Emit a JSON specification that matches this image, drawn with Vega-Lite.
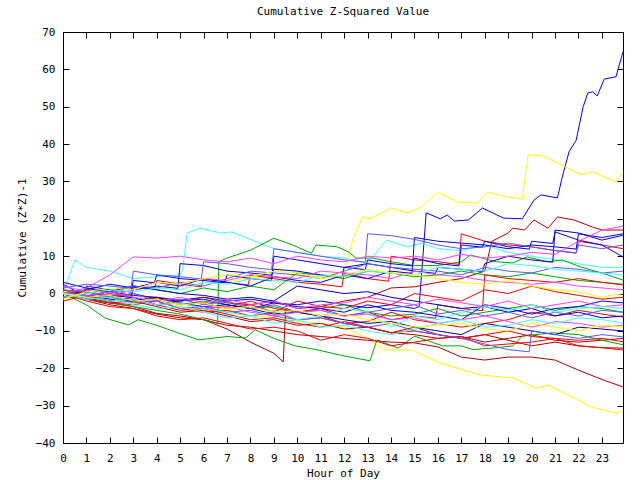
{
 "$schema": "https://vega.github.io/schema/vega-lite/v6.json",
 "width": 560, "height": 411,
 "autosize": {"type": "none"},
 "padding": {"left": 63, "top": 32, "right": 17, "bottom": 37},
 "background": "white",
 "title": {"text": "Cumulative Z-Squared Value", "font": "DejaVu Sans Mono", "fontSize": 11, "fontWeight": "normal", "color": "black", "anchor": "middle", "frame": "group", "offset": 9},
 "config": {
  "view": {"stroke": null},
  "axis": {"domainColor": "black", "tickColor": "black", "labelColor": "black", "titleColor": "black", "labelFont": "DejaVu Sans Mono", "titleFont": "DejaVu Sans Mono", "labelFontSize": 11, "titleFontSize": 11, "titleFontWeight": "normal", "grid": false, "tickSize": -6, "domainWidth": 1, "tickWidth": 1, "labelFlush": false, "labelOverlap": false}
 },
 "data": {"values": [
  {"s": "b1", "g": "blue", "h": [0,1,2,3,4,5,6,7,8,9,10,11,12,13,14,15,15.2,15.5,16.1,16.4,16.7,17.3,17.9,18.8,19.6,20.1,20.4,21.1,21.3,21.6,21.9,22.2,22.4,22.6,22.8,23.1,23.6,23.9], "v": [0,-0.8,0.5,-0.5,-1,-1.8,-1,-2,-1.5,-2.5,-3,-2,-3,-3.8,-3,-4,-3.5,21.6,20,21,19.4,19.7,22.9,20.2,20,25,26.4,25.6,31,38,41,50,53.7,54,52.9,57.4,58,64.7]},
  {"s": "y1", "g": "yellow", "h": [0,1,2,3,4,5,6,7,8,9,10,11,12,12.4,12.8,13.1,14,14.7,15.3,16,16.8,17.7,18.1,18.9,19.6,19.85,20.4,21.1,22.1,22.6,23.6,23.9], "v": [0,1,0.5,2,1.5,2.5,4,3,4.5,4,5,4.5,6,15,20.7,19.9,22.9,21.6,23.2,27.2,24.5,24.2,27.2,25.9,25.3,37.1,37,35,31.8,32.6,29.9,32.5]},
  {"s": "y2", "g": "yellow", "h": [0,1,2,3,4,5,6,7,8,9,10,11,12,13,13.7,14.9,16.1,17.8,19.2,20.2,20.7,21.8,22.5,23.6,23.9], "v": [0,-1,-1.5,-2.5,-2,-3.5,-4.5,-4,-6,-6.5,-7.5,-8,-9,-12,-15.1,-15.1,-18.6,-21.8,-22.6,-25.3,-24.5,-27.9,-30.3,-32,-31.2]},
  {"s": "dr1", "g": "darkred", "h": [0,1,2,3,4,5,6,7,8,9,10,11,12,13,14,15,16,17,18,19,20,21,22,23,23.9], "v": [0,-1.5,-3,-4,-5.5,-6.5,-7,-8.5,-9,-10,-11,-11.5,-12,-12.5,-13,-13.2,-14.3,-17,-17.8,-17,-17,-17.8,-20.5,-23,-25]},
  {"s": "dr2", "g": "darkred", "h": [0,1,2,3,4,5,6,7,8,9,9.4,9.5,10,11,12,13,14,15,16,17,18,19,20,21,22,23,23.9], "v": [0,-1,-2.5,-3.5,-5.3,-6,-7,-9.5,-13,-16,-18.3,-4,-5,-6,-8,-9,-10.5,-9,-11,-12,-11,-12.5,-14,-13,-14,-14.5,-14.6]},
  {"s": "dr3", "g": "darkred", "h": [0,1,2,3,4,5,6,7,8,9,10,11,12,13,14,15,16,17,18,18.3,19,19.2,19.7,20.1,20.7,21.1,21.8,22.6,23,23.9], "v": [0,0.5,-1,0,-1.5,-2,-1,-2.5,-3,-2,-4,-3.5,-2,-1,1.5,1.8,3,4,6,14,16.2,17.5,17,19.7,17.5,20.5,19.7,17.8,17,17]},
  {"s": "dr4", "g": "darkred", "h": [0,1,2,3,4,5,6,7,8,9,10,11,12,13,14,15,16,17,18,19,20,21,22,23,23.9], "v": [-1,-1,-2.5,-2,-3.5,-5,-4.5,-6,-7.5,-7,-8.5,-8,-9.5,-9,-10.5,-11,-12,-11.5,-13,-12,-11,-12.5,-13,-12.5,-12]},
  {"s": "c1", "g": "cyan", "h": [0,0.5,1,2,3,4,5,5.1,5.3,5.85,6.7,7.2,8.4,9,10,11,12,13,13.8,14.7,15.3,16,17,18,19,20,21,22,23,23.9], "v": [0,9,7,6,4,4.5,5,6.3,16.2,17.5,16.2,16.5,13.5,12,11,10,9.5,8,14.3,12.5,13.5,12,11.5,13,11,10,9,8,7,7]},
  {"s": "g1", "g": "green", "h": [0,1,2,3,4,5,6,6.6,6.65,7,8,9,9.8,10.6,10.8,11.7,12.2,12.5,13.2,14,15,16,17,17.4,18.5,19.2,19.8,20.7,21.3,22.1,23,23.9], "v": [0,-1.5,-2.5,-3.5,-4.5,-5.5,-7,-8,8.5,9.5,11.6,14.8,13,10.8,13,12.5,11.1,9.5,9.5,8.5,7.5,7.5,8.5,10.3,8.5,8.2,9.8,8.5,9,7.1,5.5,3.6]},
  {"s": "g2", "g": "green", "h": [0,1,1.8,2.8,3.2,4,4.9,5.8,7,7.8,8.2,9,9.9,10.8,12,13.1,13.4,14.3,15,16.2,17,17.5,18.5,19.2,19.6,20.9,22,23,23.9], "v": [0,-3,-6.6,-8.4,-7,-8.5,-10.5,-12.4,-11.5,-11.9,-9.7,-12,-14,-15,-16.7,-18,-12.4,-14.6,-11.4,-14,-14,-15,-14.5,-14,-11.4,-10.5,-11,-12.5,-13.7]},
  {"s": "g3", "g": "green", "h": [0,1,2,3,4,5,6,7,8,9,10,11,12,13,14,15,16,17,18,19,20,21,22,23,23.9], "v": [1,0.5,-1,-2,-1.5,-3,-2,-3,-4,-3.5,-5,-4,-3,-5,-6,-5.5,-4,-6,-5,-4,-3,-4.5,-3.5,-4,-5]},
  {"s": "g4", "g": "green", "h": [0,1,2,3,4,5,6,7,8,9,10,11,12,13,14,15,16,17,18,19,20,21,22,23,23.9], "v": [0,1,0.5,2,1,0,1.5,0.5,2,1,5.5,5,4,6,5.5,4.5,5,6,5,4.5,5.5,4.5,3.5,3,2.5]},
  {"s": "r1", "g": "red", "h": [0,0.9,1,2,2.9,3,3.9,4,5,5.9,6,7,7.9,8,9,10,11,11.9,12,13,13.9,14,15,16,16.9,17,18,19,20,21,21.9,22,23,23.9], "v": [1,-0.7,1.5,0,-0.7,2,1.3,3.5,2.5,1.8,4,3,2.3,5,4,3,2.5,1.8,5.5,4,3.3,10,9,8.5,7.8,16,14,13,12.5,11.5,10.8,14,13,12]},
  {"s": "r2", "g": "red", "h": [0,1,2,3,4,5,6,7,8,9,10,11,12,13,14,15,16,17,18,19,20,21,22,23,23.9], "v": [0,-1,-0.5,-2,-1,-3,-2.5,-4,-3,-5,-2,-3.5,-4,-2,-3,0,-1,-2,1,0,2,0.5,-0.5,-1.5,-1]},
  {"s": "r3", "g": "red", "h": [0,1,2,3,4,5,6,7,8,9,10,11,12,13,14,15,16,17,18,19,20,21,22,23,23.9], "v": [0,-1.5,-2.5,-3,-2,-4,-5,-4.5,-6,-5,-7,-6.5,-8,-7.5,-5,-7,-8,-9,-8,-7,-5,-6,-4.5,-5.5,-6.3]},
  {"s": "r4", "g": "red", "h": [0,1,2,3,4,5,6,7,8,9,10,11,12,13,14,15,16,17,18,19,20,21,22,23,23.9], "v": [-2,-0.5,-2,-1.5,-3,-4.5,-4,-5.5,-7,-6.5,-8,-9,-7.5,-9,-10.5,-10,-11,-12,-11,-10,-11.5,-12,-12.5,-12,-12.9]},
  {"s": "r5", "g": "red", "h": [0,1,2,3,4,5,6,7,8,9,10,11,12,13,14,15,16,17,18,19,20,21,22,23,23.9], "v": [0,-2,-3.5,-4,-6,-7,-6.5,-8,-9.5,-9,-10,-12.5,-11,-12,-14,-13,-12,-11.5,-14,-13.5,-13,-12,-14,-14.5,-15.1]},
  {"s": "r6", "g": "red", "h": [0,1,2,3,4,5,6,7,8,9,10,11,12,13,14,15,15.9,16,17,17.9,18,19,20,21,22,23,23.9], "v": [0,-1,-2,-1.5,-3,-2.5,-4,-3.5,-2,-4,-5,-4,-6,-5,-7,-6,-6.6,-3,-4,-4.6,5,4,3.5,3,4,3,2.3]},
  {"s": "b2", "g": "blue", "h": [0,0.9,1,2,2.9,3,3.9,4,5,6,6.9,7,8,8.9,9,10,11,12,12.9,13,14,14.9,15,16,16.9,17,17.9,18,19,19.9,20,20.9,21,22,23,23.9], "v": [2.5,-0.6,2,1,0.4,3.5,2.9,5,4,3.5,2.9,5,4,3.4,10,9,8,7,6.4,9,8,7.4,9.5,8,7.4,13,12.4,14,12.5,11.9,14,13.4,16.5,14.3,13,9.8]},
  {"s": "b3", "g": "blue", "h": [0,1,2,3,4,5,6,7,8,9,10,11,12,13,14,14.9,15,16,17,18,19,20,21,21.9,22,23,23.9], "v": [0,1,2.5,1.5,3,2,4,3,2,4.5,3.5,3,5,4,6,5.4,15,14,13.5,13,12,13,12.5,11.9,16,15,16]},
  {"s": "b4", "g": "blue", "h": [0,1,2,3,4,5,6,7,8,9,10,11,12,13,14,15,16,17,18,19,20,21,22,23,23.9], "v": [0,-1,-2,-1,-3,-2,-1.5,-3,-4,-2.5,-3.5,-4,-5,-3,-4.5,-5,-6,-7,-3,-4,-5.5,-4,-3.5,-2,-2.5]},
  {"s": "n1", "g": "navy", "h": [0,1,2,2.9,3,4,4.9,5,6,7,8,8.9,9,10,11,11.9,12,13,14,15,15.9,16,17,17.9,18,19,20,20.9,21,22,23,23.9], "v": [-1,0.5,-0.5,-1,1,2,1.4,8,7.5,6,5.5,4.9,6.5,6,5,4.4,7,8,7,6,5.4,7,6.5,5.9,8,10,9,8.4,17,16.2,14.3,15.6]},
  {"s": "n2", "g": "navy", "h": [0,1,2,3,4,5,6,7,8,9,10,11,12,13,14,15,16,17,18,19,20,21,22,23,23.9], "v": [0,-0.5,-1.5,-2,-1,-2.5,-3.5,-3,-4,-5.5,-5,-6,-7,-8,-7.5,-9,-10,-11,-8,-9,-10,-11,-9,-9.5,-10]},
  {"s": "n3", "g": "navy", "h": [0,1,2,3,4,5,6,7,8,9,10,11,12,13,14,15,16,17,18,19,20,21,22,23,23.9], "v": [3,1.5,0.5,2,1,0,-0.5,-1.5,-1,-2,2,1,0,0.5,-1,-2,-3,-4,-3.5,-5,-4,-6,-5,-6.5,-6]},
  {"s": "sb1", "g": "slate", "h": [0,1,2,2.9,3,4,5,5.9,6,7,8,8.9,9,10,11,12,12.9,13,14,15,16,17,18,19,20,21,21.9,22,23,23.9], "v": [1.5,2.5,2,1.4,6,5,4.5,3.9,8.5,8,7,6.4,12,11,10,9,8.4,16,15.5,14.5,13,12,12.5,13.5,12.5,11.5,10.9,13,12,13]},
  {"s": "sb2", "g": "slate", "h": [0,1,2,3,4,5,6,7,8,9,10,11,12,13,14,15,16,17,18,19,19.9,20,21,22,23,23.9], "v": [0,-1.5,-1,-2.5,-2,-4,-3.5,-5,-4.5,-6,-7,-6.5,-8,-9,-8,-10,-11,-12,-13.5,-15,-15.6,-10,-11,-12,-11,-11.6]},
  {"s": "sb3", "g": "slate", "h": [0,1,2,3,4,5,6,7,8,9,10,11,12,13,14,15,16,17,18,19,20,21,22,23,23.9], "v": [0,-0.5,-1,0,-2,-1.5,-3,-2,-4,-3,-5,-4.5,-6,-5,-4,-3,-5.5,-4.5,-6,-5,-6.5,-5,-6,-4.5,-5]},
  {"s": "sb4", "g": "slate", "h": [0,1,2,3,4,5,6,7,8,9,10,11,12,13,14,15,16,17,18,19,20,21,22,23,23.9], "v": [0,1,0,2,1.5,3,2,4,6,5.5,5,4,6,8,7,6.5,6,5,7,6,5.5,7,6.5,5.5,6]},
  {"s": "m1", "g": "magenta", "h": [0,1,2,3,4,5,6,7,8,9,10,11,12,13,14,15,16,17,18,19,20,21,22,23,23.9], "v": [0,1.5,5,9.8,9.5,10,9,8.5,9.5,8,10,9,8.5,10,9.5,10,9,10.5,9.5,10,11,10.5,14,17,18]},
  {"s": "m2", "g": "magenta", "h": [0,1,2,3,4,5,6,7,8,9,10,11,12,13,14,15,16,17,18,19,20,21,22,23,23.9], "v": [2,0.5,-0.5,1,3,2.5,4,3.5,5,4.5,4,6,5.5,5,4,6,5,4.5,3.5,3,2.5,3,2,1.5,1]},
  {"s": "m3", "g": "magenta", "h": [0,1,2,3,4,5,6,7,8,9,10,11,12,13,14,15,16,17,18,19,20,21,22,23,23.9], "v": [0,-1,-2,-1.5,-3,-2.5,-4,-3.5,-5,-6,-5,-4.5,-6,-5.5,-7,-6.5,-8,-7,-6,-7.5,-9,-7.5,-8,-9,-8.5]},
  {"s": "m4", "g": "magenta", "h": [0,1,2,3,4,5,6,7,8,9,10,11,12,13,14,15,16,17,18,19,20,21,22,23,23.9], "v": [0,-0.5,0.5,-1,-2,-1,-2.5,-1.5,-3,-2,-4,-3,-2.5,-1,-2,-3,-1.5,-2.5,-3.5,-2,-4,-3,-2,-3.5,-3]},
  {"s": "c2", "g": "cyan", "h": [0,1,2,3,4,5,6,7,8,9,10,11,12,13,14,15,16,17,18,19,20,21,22,23,23.9], "v": [-1,0,1,0.5,1.5,1,3,2.5,4,3.5,3,5,4.5,6,5.5,5,7,6.5,6,8,7.5,6.5,6,5.5,5]},
  {"s": "c3", "g": "cyan", "h": [0,1,2,3,4,5,6,7,8,9,10,11,12,13,14,15,16,17,18,19,20,21,22,23,23.9], "v": [0,-1,-2,-1.5,-3,-2.5,-4,-5,-6,-4.5,-7,-6,-4,-5,-9,-6,-7,-5,-3.5,-4.5,-3,-5,-4,-3.5,-4]},
  {"s": "c4", "g": "cyan", "h": [0,1,2,3,4,5,6,7,8,9,10,11,12,13,14,15,16,17,18,19,20,21,22,23,23.9], "v": [0,-1.5,-1,-3,-4,-3.5,-5,-6.5,-6,-8,-7,-9,-8.5,-10,-11,-9.5,-8,-7,-9,-8.5,-7,-8,-6.5,-7,-7.9]},
  {"s": "y3", "g": "yellow", "h": [0,1,2,3,4,5,6,7,8,9,10,11,12,13,14,15,16,17,18,19,20,21,22,23,23.9], "v": [-1.5,0.5,1.5,1,3,2.5,4,5,4.5,6,5.5,4,5,6.5,5.5,5,4,3,2.5,3.5,2,1,0.5,-1,0]},
  {"s": "y4", "g": "yellow", "h": [0,1,2,3,4,5,6,7,8,9,10,11,12,13,14,15,16,17,18,19,20,21,22,23,23.9], "v": [0,-1,-0.5,-2,-1.5,-3,-2.5,-4,-3.5,-5,-4.5,-6,-5.5,-7,-8,-9,-8.5,-8,-9.5,-10,-8,-9,-10,-8.5,-9]}
 ]},
 "transform": [{"flatten": ["h", "v"]}],
 "layer": [
  {
   "mark": {"type": "line", "strokeWidth": 1},
   "encoding": {
    "x": {"field": "h", "type": "quantitative", "scale": {"domain": [0, 23.9], "nice": false, "zero": false},
          "axis": {"orient": "bottom", "values": [0,1,2,3,4,5,6,7,8,9,10,11,12,13,14,15,16,17,18,19,20,21,22,23], "title": "Hour of Day", "labelPadding": 15, "titlePadding": 4}},
    "y": {"field": "v", "type": "quantitative", "scale": {"domain": [-40, 70], "nice": false, "zero": false},
          "axis": {"orient": "left", "values": [-40,-30,-20,-10,0,10,20,30,40,50,60,70], "title": "Cumulative (Z*Z)-1", "labelPadding": 14, "titlePadding": 8}},
    "color": {"field": "g", "type": "nominal", "legend": null,
              "scale": {"domain": ["red","green","blue","navy","slate","magenta","cyan","yellow","darkred"],
                        "range": ["#ff0000","#00a800","#0000ff","#0000b4","#5a5aff","#ff40ff","#40ffff","#ffff00","#b00000"]}},
    "detail": {"field": "s"}
   }
  },
  {
   "mark": {"type": "point", "opacity": 0},
   "encoding": {
    "x": {"field": "h", "type": "quantitative", "scale": {"domain": [0, 23.9], "nice": false, "zero": false},
          "axis": {"orient": "top", "values": [0,1,2,3,4,5,6,7,8,9,10,11,12,13,14,15,16,17,18,19,20,21,22,23], "labels": false, "title": null}},
    "y": {"field": "v", "type": "quantitative", "scale": {"domain": [-40, 70], "nice": false, "zero": false},
          "axis": {"orient": "right", "values": [-40,-30,-20,-10,0,10,20,30,40,50,60,70], "labels": false, "title": null}}
   }
  }
 ],
 "resolve": {"axis": {"x": "independent", "y": "independent"}}
}
